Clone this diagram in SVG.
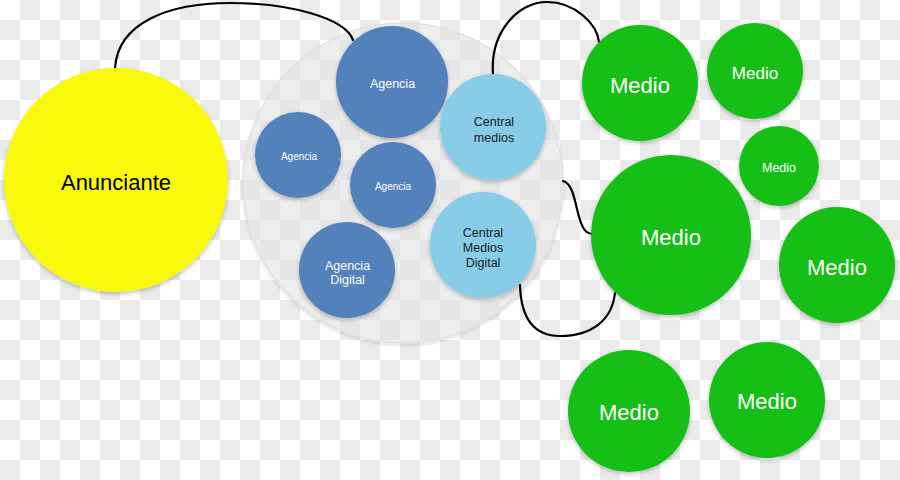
<svg xmlns="http://www.w3.org/2000/svg" width="900" height="480" viewBox="0 0 900 480">
<defs>
<pattern id="checker" x="0" y="0" width="40" height="40" patternUnits="userSpaceOnUse">
<rect width="40" height="40" fill="#ffffff"/>
<rect x="20" y="0" width="20" height="20" fill="#ebebeb"/>
<rect x="0" y="20" width="20" height="20" fill="#ebebeb"/>
</pattern>
<filter id="sh" x="-20%" y="-20%" width="140%" height="140%">
<feDropShadow dx="0" dy="2" stdDeviation="2" flood-color="#000" flood-opacity="0.25"/>
</filter>
<filter id="shb" x="-10%" y="-10%" width="120%" height="120%">
<feDropShadow dx="0" dy="2" stdDeviation="1.5" flood-color="#000" flood-opacity="0.15"/>
</filter>
</defs>
<style>
.t{font-family:"Liberation Sans",Arial,sans-serif;text-anchor:middle}
.w{fill:#ffffff}
.d{fill:#1a1a1a}
.green{fill:#14bf14}
.blue{fill:#5281bb}
.lblue{fill:#87cde8}
.conn{fill:none;stroke:#000;stroke-width:2.2;stroke-linecap:round}
</style>
<rect width="900" height="480" fill="url(#checker)"/>

<g id="grupo">
<circle cx="403" cy="183" r="160" fill="#e9e9e9" fill-opacity="0.6" stroke="#e2e2e2" stroke-width="1.5" filter="url(#shb)"/>
</g>

<g id="connectors">
<path class="conn" d="M115,68 C118,22 170,3 230,3 C290,3 345,18 353,40"/>
<path class="conn" d="M493,74 C490,32 518,2 547,2 C575,2 597,24 599,42"/>
<path class="conn" d="M563,181 C574,184 575,205 580,220 C584,232 588,234 593,234"/>
<path class="conn" d="M520,285 C521,320 535,336 560,336 C592,336 612,320 615,293"/>
</g>

<g id="anunciante">
<circle cx="116" cy="180" r="112" fill="#f9f90a" filter="url(#sh)"/>
<text class="t" x="116" y="190" font-size="22" fill="#000">Anunciante</text>
</g>

<g id="agencia1">
<circle class="blue" cx="392" cy="82" r="56" filter="url(#sh)"/>
<text class="t w" x="392.5" y="87.5" font-size="12.5">Agencia</text>
</g>
<g id="agencia2">
<circle class="blue" cx="298" cy="155" r="43" filter="url(#sh)"/>
<text class="t w" x="299" y="159.5" font-size="10">Agencia</text>
</g>
<g id="agencia3">
<circle class="blue" cx="393" cy="185" r="43" filter="url(#sh)"/>
<text class="t w" x="393" y="189.5" font-size="10">Agencia</text>
</g>
<g id="agencia-digital">
<circle class="blue" cx="347" cy="270" r="48" filter="url(#sh)"/>
<text class="t w" x="347.5" y="269.5" font-size="12.5">Agencia</text>
<text class="t w" x="347.5" y="284" font-size="12.5">Digital</text>
</g>
<g id="central-medios">
<circle class="lblue" cx="493" cy="127" r="53" filter="url(#sh)"/>
<text class="t d" x="494" y="125.5" font-size="12.5">Central</text>
<text class="t d" x="494" y="141.5" font-size="12.5">medios</text>
</g>
<g id="central-medios-digital">
<circle class="lblue" cx="483" cy="245" r="53" filter="url(#sh)"/>
<text class="t d" x="483" y="236.5" font-size="12.5">Central</text>
<text class="t d" x="483" y="252" font-size="12.5">Medios</text>
<text class="t d" x="483" y="267" font-size="12.5">Digital</text>
</g>

<g id="medio1">
<circle class="green" cx="640" cy="83" r="58" filter="url(#sh)"/>
<text class="t w" x="640" y="92.5" font-size="22">Medio</text>
</g>
<g id="medio2">
<circle class="green" cx="755" cy="71" r="48" filter="url(#sh)"/>
<text class="t w" x="755" y="79" font-size="17">Medio</text>
</g>
<g id="medio3">
<circle class="green" cx="779" cy="166" r="40" filter="url(#sh)"/>
<text class="t w" x="779" y="171.5" font-size="12.5">Medio</text>
</g>
<g id="medio4">
<circle class="green" cx="671" cy="235" r="80" filter="url(#sh)"/>
<text class="t w" x="671" y="245" font-size="22">Medio</text>
</g>
<g id="medio5">
<circle class="green" cx="837" cy="265" r="58" filter="url(#sh)"/>
<text class="t w" x="837" y="275" font-size="22">Medio</text>
</g>
<g id="medio6">
<circle class="green" cx="629" cy="411" r="61" filter="url(#sh)"/>
<text class="t w" x="629" y="420" font-size="22">Medio</text>
</g>
<g id="medio7">
<circle class="green" cx="767" cy="400" r="58" filter="url(#sh)"/>
<text class="t w" x="767" y="409" font-size="22">Medio</text>
</g>
</svg>
